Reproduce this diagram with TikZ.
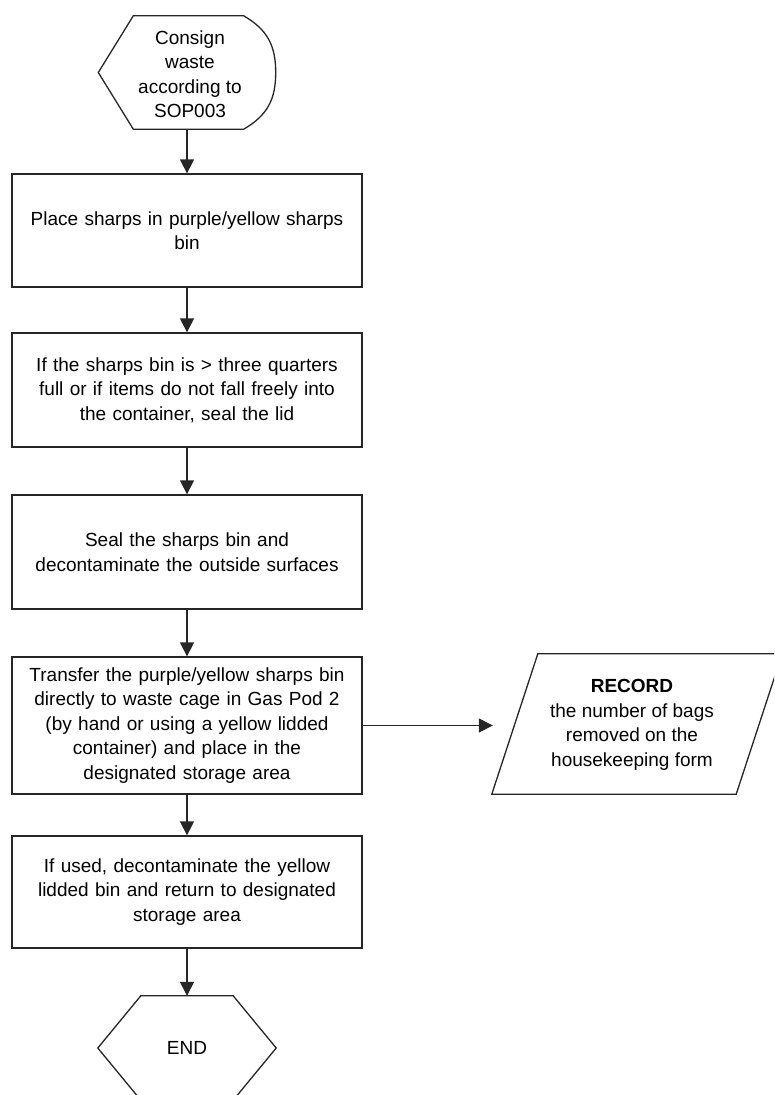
\documentclass[tikz,border=0pt]{standalone}
\usepackage{fontspec}
\setmainfont{Liberation Sans}
\usetikzlibrary{arrows.meta}
\tikzset{
  line/.style={draw=black!85, line width=1.3pt},
  procbox/.style={line, rectangle, minimum width=350pt, inner sep=0pt, text width=340pt, align=center,
    font=\fontsize{19}{24.5}\selectfont},
  ghost/.style={rectangle, inner sep=0pt, align=center, font=\fontsize{19}{24.5}\selectfont},
  flow/.style={line, -{Triangle[width=14pt,length=14pt]}},
}
\begin{document}
\begin{tikzpicture}[x=1pt,y=-1pt]
\useasboundingbox (0,0) rectangle (774,1095);
\clip (0,0) rectangle (774,1095);
\fill[white] (0,0) rectangle (774,1095);

% start (display shape)
\node[ghost, minimum width=177pt, minimum height=113pt] (start) at (187,72.5) {};
\node[ghost] (starttext) at (190,74) {Consign\\waste\\according to\\SOP003};
\draw[line] ([xshift=35pt]start.north west) -- ([xshift=-32pt]start.north east)
  .. controls ([xshift=-8pt,yshift=-14pt]start.north east) and ([yshift=-30pt]start.north east) .. (start.east)
  .. controls ([yshift=30pt]start.south east) and ([xshift=-8pt,yshift=14pt]start.south east) .. ([xshift=-32pt]start.south east)
  -- ([xshift=35pt]start.south west) -- (start.west) -- cycle;

\node[procbox, minimum height=113pt] (b1) at (187,230.5) {Place sharps in purple/yellow sharps\\bin};
\node[procbox, minimum height=114pt] (b2) at (187,390) {If the sharps bin is > three quarters\\full or if items do not fall freely into\\the container, seal the lid};
\node[procbox, minimum height=114pt] (b3) at (187,552) {Seal the sharps bin and\\decontaminate the outside surfaces};
\node[procbox, minimum height=137pt] (b4) at (187,725.5) {Transfer the purple/yellow sharps bin\\directly to waste cage in Gas Pod 2\\(by hand or using a yellow lidded\\container) and place in the\\designated storage area};
\node[procbox, minimum height=112pt] (b5) at (187,892) {If used, decontaminate the yellow\\lidded bin and return to designated\\storage area};

% record (parallelogram)
\node[ghost, minimum width=244pt, minimum height=140pt] (rec) at (637,724) {};
\node[ghost] (rectext) at (632,725) {\textbf{RECORD}\\the number of bags\\removed on the\\housekeeping form};
\draw[line] ([xshift=23pt]rec.north west) -- ([xshift=23pt]rec.north east)
  -- ([xshift=-23pt]rec.south east) -- ([xshift=-23pt]rec.south west) -- cycle;

% end hexagon
\node[ghost, minimum width=178pt, minimum height=104pt] (endn) at (187,1048) {};
\node[ghost] (endtext) at (187,1048) {END};
\draw[line] ([xshift=43pt]endn.north west) -- ([xshift=-43pt]endn.north east) -- (endn.east)
  -- ([xshift=-43pt]endn.south east) -- ([xshift=43pt]endn.south west) -- (endn.west) -- cycle;

% connectors
\draw[flow] (start.south) -- (b1.north);
\draw[flow] (b1.south) -- (b2.north);
\draw[flow] (b2.south) -- (b3.north);
\draw[flow] (b3.south) -- (b4.north);
\draw[flow] (b4.south) -- (b5.north);
\draw[flow] (b5.south) -- (endn.north);
\draw[flow, shorten >=22pt] (b4.east) -- (b4.east -| rec.west);
\end{tikzpicture}
\end{document}
